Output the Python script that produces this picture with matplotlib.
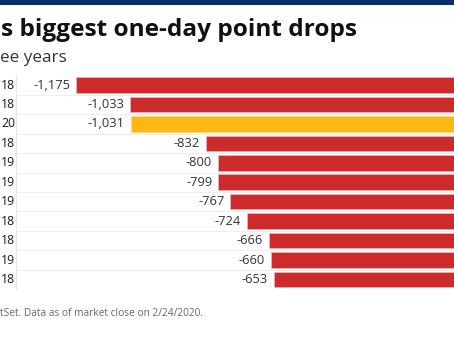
import matplotlib
matplotlib.use("Agg")
import matplotlib.pyplot as plt
from matplotlib.patches import Rectangle

year_labels = ["18", "18", "20", "18", "19", "19", "19", "18", "18", "19", "18"]
drops = [-1175, -1033, -1031, -832, -800, -799, -767, -724, -666, -660, -653]
value_labels = ["-1,175", "-1,033", "-1,031", "-832", "-800", "-799", "-767", "-724", "-666", "-660", "-653"]
highlight = [False, False, True, False, False, False, False, False, False, False, False]

RED = "#cd2a2b"
YELLOW = "#fdb812"
NAVY = "#0a2d6b"
FONT = "Open Sans"

W, H = 454, 341
fig = plt.figure(figsize=(W / 100, H / 100), dpi=100)
fig.patch.set_facecolor("white")

# top band
fig.add_artist(Rectangle((0, 1 - 5 / H), 1, 5 / H, transform=fig.transFigure,
                         facecolor=NAVY, edgecolor="none"))

fig.text(1 / W, 1 - 35.5 / H, "s biggest one-day point drops", fontsize=17.6,
         fontweight="bold", family=FONT, color="#111111", va="baseline", ha="left")
fig.text(0.5 / W, 1 - 61.5 / H, "ee years", fontsize=12.3, family=FONT,
         color="#333333", va="baseline", ha="left")
fig.text(0 / W, 1 - 313.5 / H, "tSet. Data as of market close on 2/24/2020.",
         fontsize=7.3, family=FONT, color="#666666", va="center", ha="left")

n = len(drops)
top_px, bot_px = 75.3, 289.2
left_px, right_px = 16, 454
ax = fig.add_axes([left_px / W, 1 - bot_px / H, (right_px - left_px) / W, (bot_px - top_px) / H])
ax.set_xlim(-1335, -175)
ax.set_ylim(n - 0.5, -0.5)

for i, (v, hl) in enumerate(zip(drops, highlight)):
    ax.barh(i, -v, left=v, height=0.8, color=YELLOW if hl else RED,
            edgecolor="#f2b0b0" if not hl else "#ffd77a", linewidth=0.6)
    ax.text(v - 16, i, value_labels[i], ha="right", va="center", fontsize=9.3,
            family=FONT, color="#333333")
    ax.text(15 / W, 1 - (top_px + (i + 0.5) * (bot_px - top_px) / n) / H, year_labels[i],
            transform=fig.transFigure, ha="right", va="center", fontsize=8.8,
            family=FONT, color="#1a1a1a")

for i in range(n):
    ax.axhline(i + 0.5, color="#eeeeee", linewidth=0.8, zorder=0)

for s in ["top", "right", "bottom"]:
    ax.spines[s].set_visible(False)
ax.spines["left"].set_color("#e6e6e6")
ax.spines["left"].set_linewidth(0.8)
ax.set_xticks([])
ax.set_yticks([])

fig.savefig("out.png", dpi=100, facecolor="white")
